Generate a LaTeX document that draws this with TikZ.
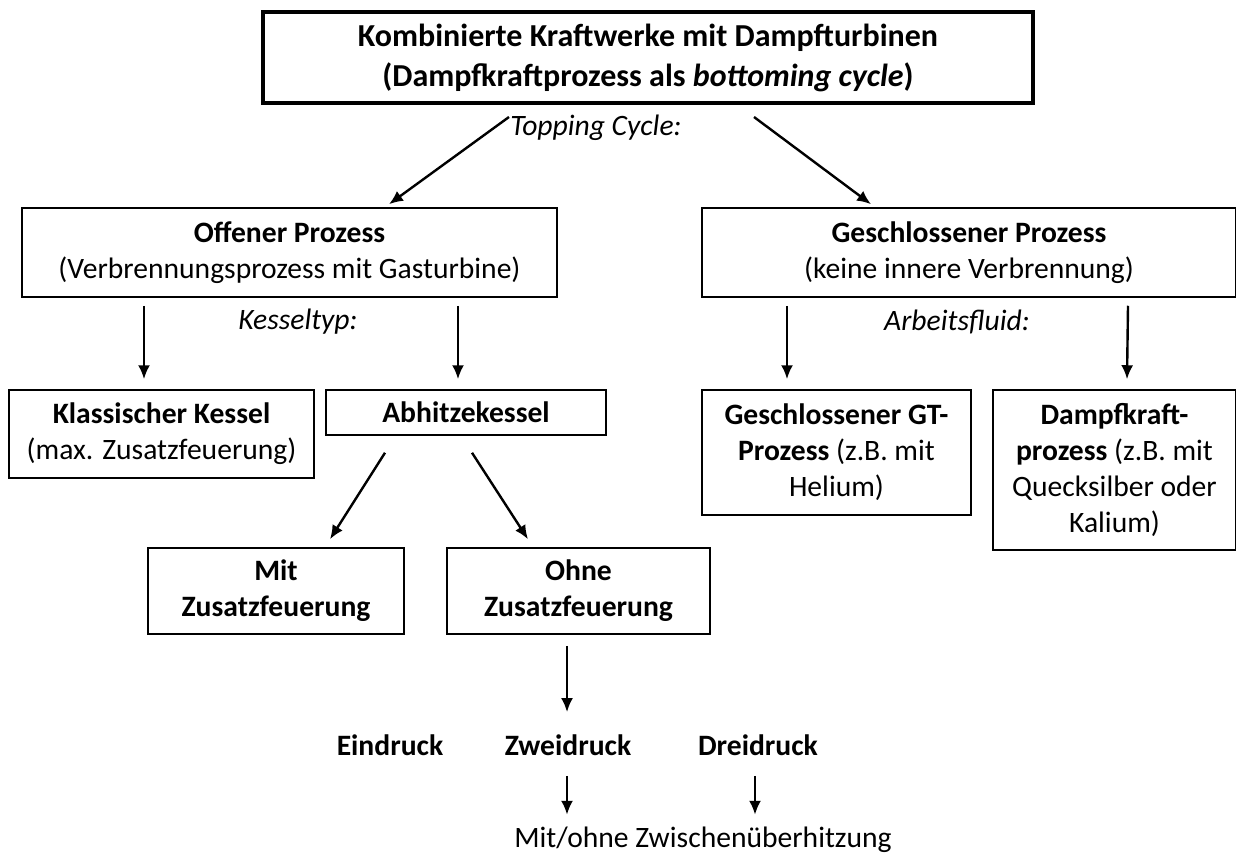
\documentclass[tikz,border=0pt]{standalone}
\usepackage{fontspec}
\setmainfont{Carlito}
\usetikzlibrary{arrows.meta}
\begin{document}
\begin{tikzpicture}[x=0.5pt,y=-0.5pt,
  txt/.style={inner sep=0pt, align=center, font=\fontsize{14.8}{18}\selectfont},
  box/.style={txt, draw, line width=0.75pt},
  lbl/.style={txt, font=\fontsize{14.8}{18}\selectfont\itshape},
  bld/.style={txt, font=\fontsize{14.8}{18}\selectfont\bfseries},
  arr/.style={line width=1.2pt, -{Latex[length=7pt,width=6pt]}}]
\useasboundingbox (0,0) rectangle (1236,856);
% boxes
\node[box, line width=2pt, minimum width=385pt, minimum height=45.5pt,
      font=\fontsize{16}{20}\selectfont\bfseries] (title) at (648,57.5)
  {Kombinierte Kraftwerke mit Dampfturbinen\\(Dampfkraftprozess als \textit{bottoming cycle})};
\node[box, minimum width=267.5pt, minimum height=44.5pt] (off) at (289.5,252.5)
  {\textbf{Offener Prozess}\\(Verbrennungsprozess mit Gasturbine)};
\node[box, minimum width=267pt, minimum height=44.5pt] (ges) at (969,252.5)
  {\textbf{Geschlossener Prozess}\\(keine innere Verbrennung)};
\node[box, minimum width=152.5pt, minimum height=44pt] (klass) at (161.5,434)
  {\textbf{Klassischer Kessel}\\(max. Zusatzfeuerung)};
\node[box, minimum width=140pt, minimum height=22.5pt] (abh) at (466,412.5)
  {\textbf{Abhitzekessel}};
\node[box, minimum width=134.5pt, minimum height=62.5pt] (gt) at (836.5,452.5)
  {\textbf{Geschlossener GT-}\\\textbf{Prozess} (z.B. mit\\Helium)};
\node[box, minimum width=121.5pt, minimum height=80pt] (dk) at (1114.5,470)
  {\textbf{Dampfkraft-}\\\textbf{prozess} (z.B. mit\\Quecksilber oder\\Kalium)};
\node[box, minimum width=128pt, minimum height=43pt] (mit) at (276,591)
  {\textbf{Mit}\\\textbf{Zusatzfeuerung}};
\node[box, minimum width=131.5pt, minimum height=43pt] (ohne) at (578.5,591)
  {\textbf{Ohne}\\\textbf{Zusatzfeuerung}};
% labels
\node[lbl] (top) at (596,128) {Topping Cycle:};
\node[lbl] (kt) at (298,322) {Kesseltyp:};
\node[lbl] (af) at (957,322) {Arbeitsfluid:};
\node[bld] (ein) at (390,745) {Eindruck};
\node[bld] (zwei) at (568,745) {Zweidruck};
\node[bld] (drei) at (758,745) {Dreidruck};
\node[txt] (zwu) at (703,840) {Mit/ohne Zwischen\"uberhitzung};
% arrows
\draw[arr] ([shift={(-139,12)}]title.south) -- ([shift={(99.5,-3)}]off.north);
\draw[arr] ([shift={(106,12)}]title.south) -- ([shift={(-98,-3)}]ges.north);
\draw[arr] ([shift={(-145.5,8)}]off.south) -- ([shift={(-17.5,-10)}]klass.north);
\draw[arr] ([shift={(168.5,8)}]off.south) -- ([shift={(-8,-10)}]abh.north);
\draw[arr] ([shift={(-182,8)}]ges.south) -- ([shift={(-49.5,-10)}]gt.north);
\draw[arr] ([shift={(159,8)}]ges.south) -- ([shift={(12.5,-10)}]dk.north);
\draw[arr] ([shift={(-81,17)}]abh.south) -- ([shift={(54,-8)}]mit.north);
\draw[arr] ([shift={(6,17)}]abh.south) -- ([shift={(-50.5,-8)}]ohne.north);
\draw[arr] ([shift={(-11.5,11)}]ohne.south) -- ([shift={(-1,-22)}]zwei.north);
\draw[arr] ([shift={(-1,20)}]zwei.south) -- ([shift={(-136,-12)}]zwu.north);
\draw[arr] ([shift={(-3,20)}]drei.south) -- ([shift={(52,-12)}]zwu.north);
\end{tikzpicture}
\end{document}
